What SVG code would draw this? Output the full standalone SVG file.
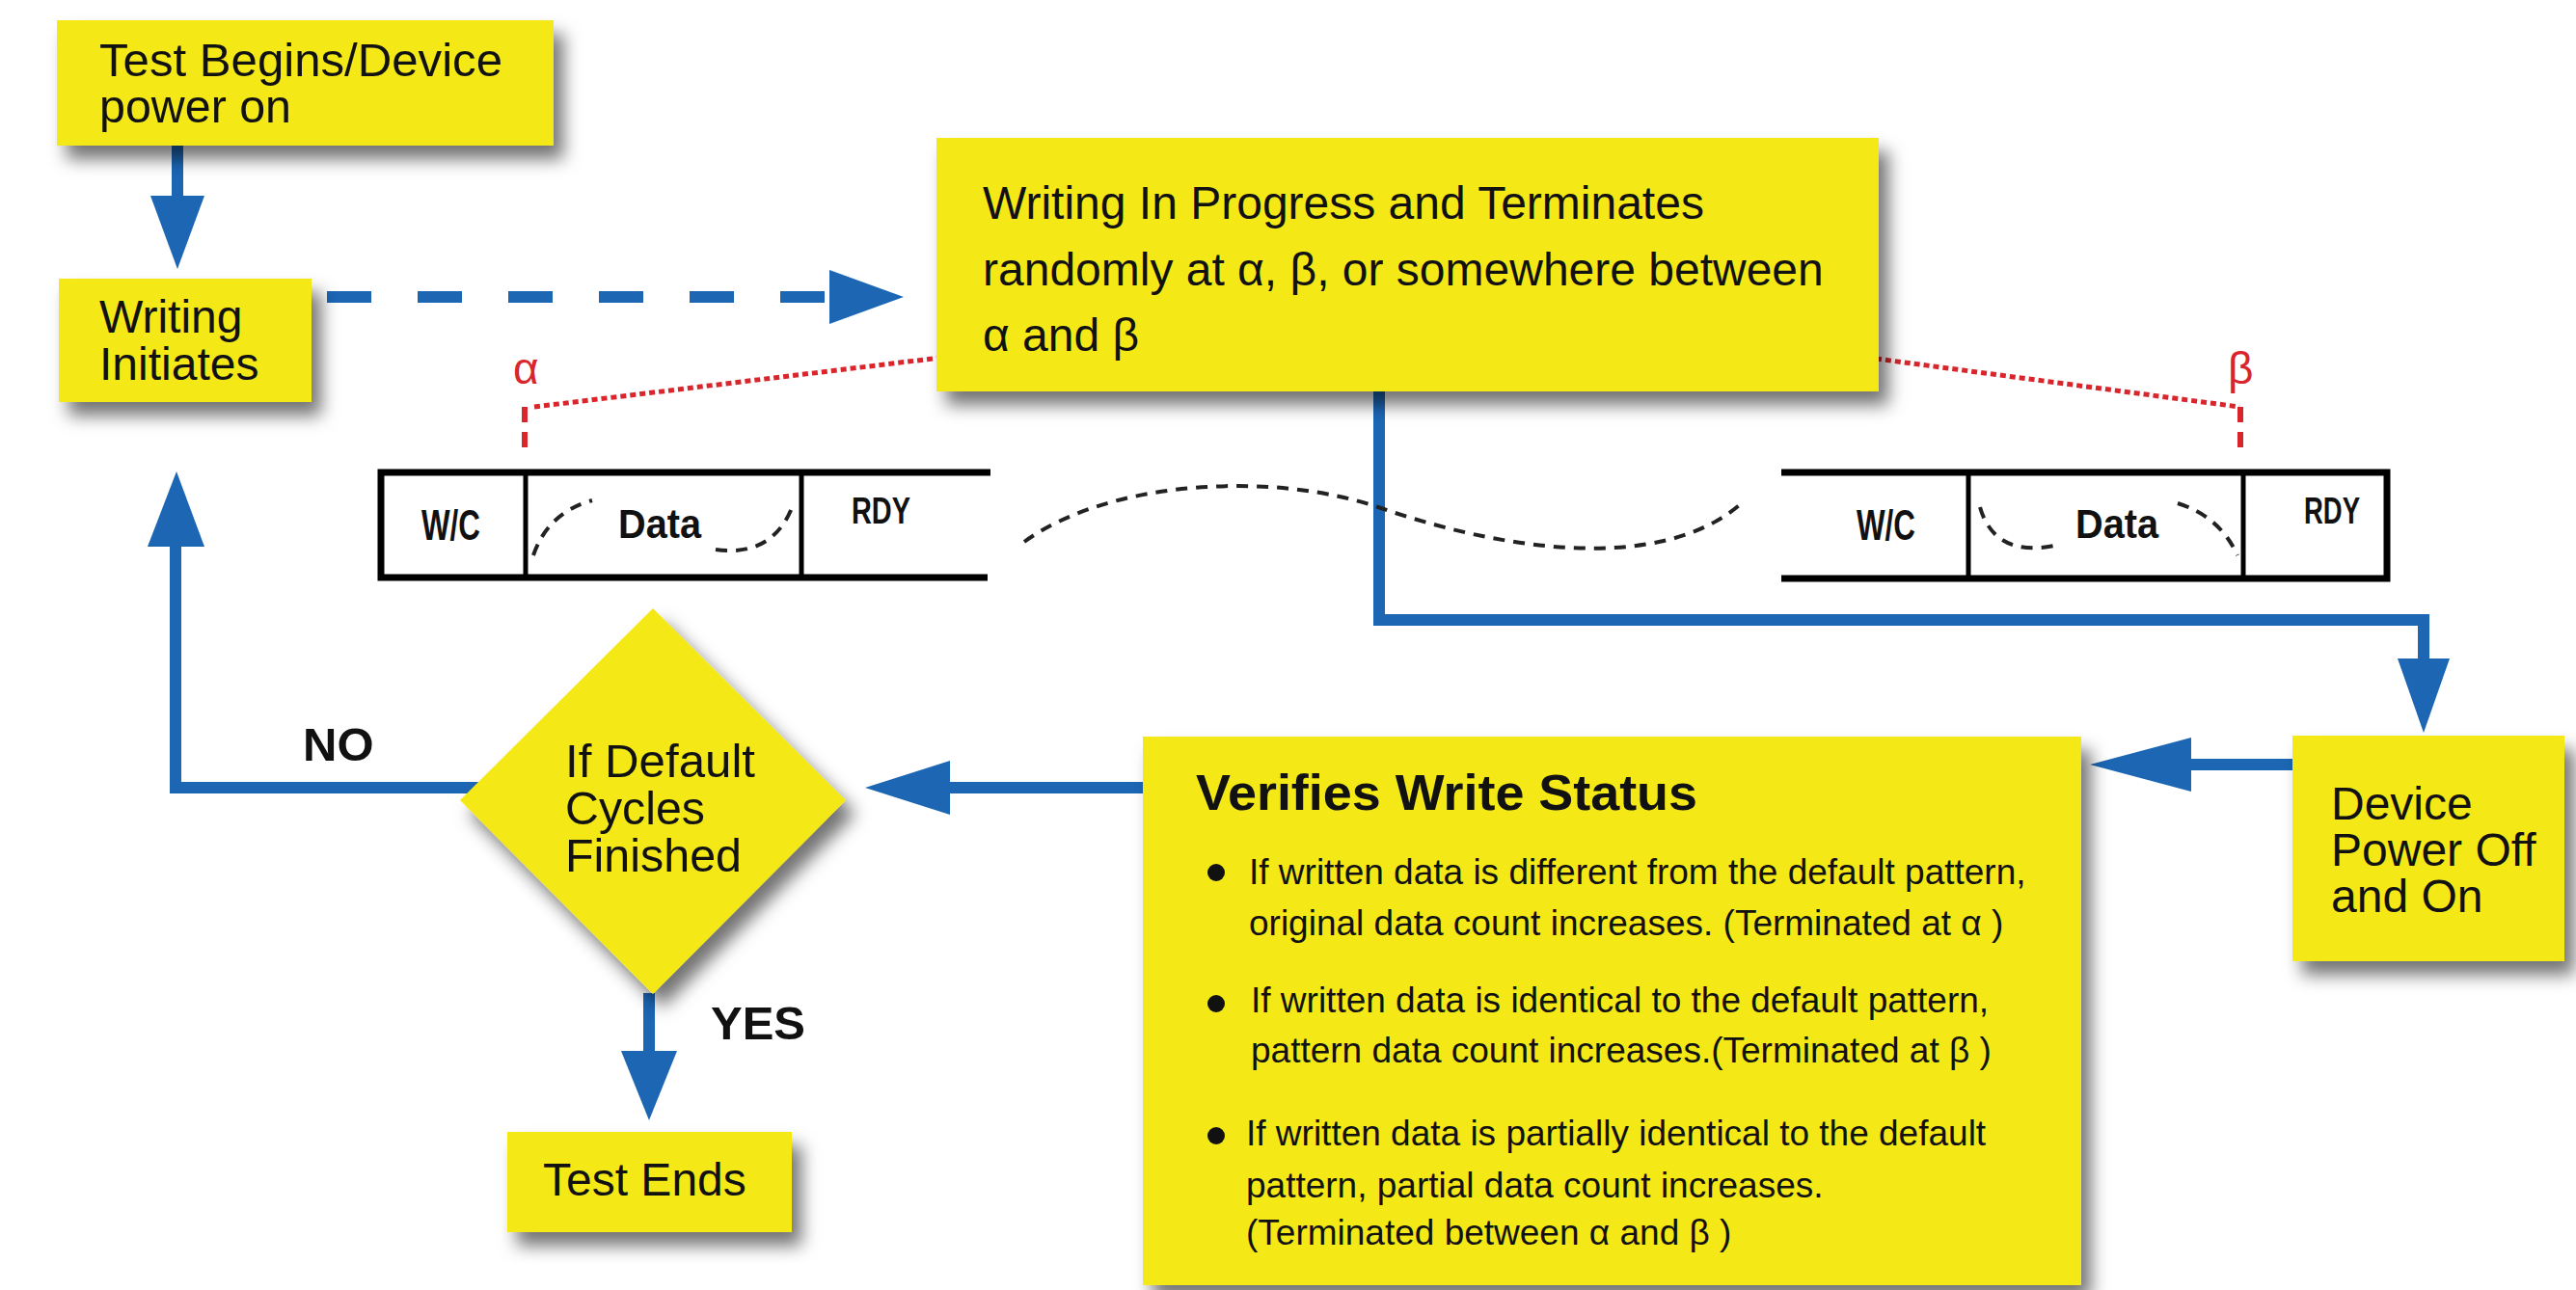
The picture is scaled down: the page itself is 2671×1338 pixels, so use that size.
<svg xmlns="http://www.w3.org/2000/svg" width="2671" height="1338" viewBox="0 0 2671 1338">
  <style>
    .box { fill: #f4e915; filter: url(#shadow); }
    .t { font-family: "Liberation Sans", Arial, sans-serif; font-size: 48px; fill: #111; }
    .tb { font-family: "Liberation Sans", Arial, sans-serif; font-weight: bold; fill: #111; }
    .ts { font-family: "Liberation Sans", Arial, sans-serif; font-size: 37px; fill: #111; }
    .greek { font-family: "Liberation Sans", Arial, sans-serif; font-size: 46px; fill: #d8262c; }
    .flow { stroke: #1c66b4; stroke-width: 12; fill: none; }
    .head { fill: #1c66b4; }
    .mem { stroke: #000; stroke-width: 7; fill: none; }
    .div { stroke: #000; stroke-width: 5; fill: none; }
    .wave { stroke: #222; stroke-width: 4; fill: none; stroke-dasharray: 12 9; }
    .dot { stroke: #d8262c; stroke-width: 5; fill: none; stroke-dasharray: 6 4; }
    .mark { stroke: #d8262c; stroke-width: 6; fill: none; stroke-dasharray: 16 10; }
  </style>
  <defs>
    <filter id="shadow" x="-10%" y="-10%" width="130%" height="140%">
      <feDropShadow dx="10" dy="14" stdDeviation="9" flood-color="#000" flood-opacity="0.55"/>
    </filter>
  </defs>

  <rect width="2671" height="1338" fill="#fff"/>

  <!-- connectors -->
  <g id="connectors">
    <!-- start -> writing initiates -->
    <line class="flow" x1="184" y1="151" x2="184" y2="206"/>
    <polygon class="head" points="156,203 212,203 184,279"/>
    <!-- writing initiates -> writing in progress (dashed) -->
    <line class="flow" x1="339" y1="308" x2="858" y2="308" stroke-dasharray="46 48"/>
    <polygon class="head" points="860,280 937,308 860,336"/>
    <!-- writing in progress -> power cycle -->
    <polyline class="flow" points="1430,406 1430,643 2513,643 2513,686"/>
    <polygon class="head" points="2486,683 2540,683 2513,760"/>
    <!-- power cycle -> verify -->
    <line class="flow" x1="2377" y1="793" x2="2268" y2="793"/>
    <polygon class="head" points="2272,765 2272,821 2167,793"/>
    <!-- verify -> decision -->
    <line class="flow" x1="1185" y1="817" x2="982" y2="817"/>
    <polygon class="head" points="985,789 985,845 897,817"/>
    <!-- decision NO -> back to writing initiates -->
    <polyline class="flow" points="500,817 182,817 182,564"/>
    <polygon class="head" points="153,567 212,567 183,489"/>
    <!-- decision YES -> end -->
    <line class="flow" x1="673" y1="1030" x2="673" y2="1093" stroke-width="15"/>
    <polygon class="head" points="644,1090 702,1090 673,1162"/>
  </g>

  <!-- write frame: first cycle -->
  <g id="frame-alpha">
    <polyline class="mem" points="1027,490 395,490 395,599 1024,599"/>
    <line class="div" x1="545" y1="490" x2="545" y2="599"/>
    <line class="div" x1="831" y1="490" x2="831" y2="599"/>
    <text class="tb" x="437" y="560" font-size="44" textLength="61" lengthAdjust="spacingAndGlyphs">W/C</text>
    <text class="tb" x="641" y="558" font-size="42" textLength="86" lengthAdjust="spacingAndGlyphs">Data</text>
    <text class="tb" x="883" y="543" font-size="38" textLength="61" lengthAdjust="spacingAndGlyphs">RDY</text>
    <path class="wave" d="M553,576 Q568,532 614,519"/>
    <path class="wave" d="M742,570 Q800,578 821,527"/>
  </g>

  <!-- data continues between the two frames -->
  <path id="data-span" class="wave" d="M1062,562 C1150,498 1320,488 1432,527 S1720,600 1808,520"/>

  <!-- write frame: last cycle -->
  <g id="frame-beta">
    <polyline class="mem" points="1847,490 2475,490 2475,600 1847,600"/>
    <line class="div" x1="2041" y1="490" x2="2041" y2="600"/>
    <line class="div" x1="2326" y1="490" x2="2326" y2="600"/>
    <text class="tb" x="1925" y="560" font-size="44" textLength="61" lengthAdjust="spacingAndGlyphs">W/C</text>
    <text class="tb" x="2152" y="558" font-size="42" textLength="86" lengthAdjust="spacingAndGlyphs">Data</text>
    <text class="tb" x="2389" y="543" font-size="38" textLength="58" lengthAdjust="spacingAndGlyphs">RDY</text>
    <path class="wave" d="M2053,526 Q2068,578 2130,566"/>
    <path class="wave" d="M2258,522 Q2302,536 2320,576"/>
  </g>

  <!-- termination markers -->
  <g id="marker-alpha">
    <line class="dot" x1="554" y1="422" x2="975" y2="371"/>
    <line class="mark" x1="544" y1="422" x2="544" y2="472"/>
    <text class="greek" x="532" y="398">α</text>
  </g>
  <g id="marker-beta">
    <line class="dot" x1="1945" y1="372" x2="2322" y2="422"/>
    <line class="mark" x1="2323" y1="422" x2="2323" y2="472"/>
    <text class="greek" x="2310" y="398">β</text>
  </g>

  <!-- nodes -->
  <g id="start">
    <rect class="box" x="59" y="21" width="515" height="130"/>
    <text class="t" x="103" y="79" font-size="42" textLength="418" lengthAdjust="spacingAndGlyphs">Test Begins/Device</text>
    <text class="t" x="103" y="127" font-size="42" textLength="199" lengthAdjust="spacingAndGlyphs">power on</text>
  </g>

  <g id="writing-initiates">
    <rect class="box" x="61" y="289" width="262" height="128"/>
    <text class="t" x="103" y="345" font-size="49">Writing</text>
    <text class="t" x="103" y="394" font-size="49">Initiates</text>
  </g>

  <g id="writing-progress">
    <rect class="box" x="971" y="143" width="977" height="263"/>
    <text class="t" x="1019" y="227">Writing In Progress and Terminates</text>
    <text class="t" x="1019" y="296">randomly at α, β, or somewhere between</text>
    <text class="t" x="1019" y="364">α and β</text>
  </g>

  <g id="power-cycle">
    <rect class="box" x="2377" y="763" width="282" height="234"/>
    <text class="t" x="2417" y="850">Device</text>
    <text class="t" x="2417" y="898">Power Off</text>
    <text class="t" x="2417" y="946">and On</text>
  </g>

  <g id="verify">
    <rect class="box" x="1185" y="764" width="973" height="569"/>
    <text class="tb" x="1240" y="840" font-size="52" textLength="520" lengthAdjust="spacingAndGlyphs">Verifies Write Status</text>
    <circle cx="1261" cy="905" r="9" fill="#111"/>
    <text class="ts" x="1295" y="917">If written data is different from the default pattern,</text>
    <text class="ts" x="1295" y="970">original data count increases. (Terminated at α )</text>
    <circle cx="1261" cy="1041" r="9" fill="#111"/>
    <text class="ts" x="1297" y="1050">If written data is identical to the default pattern,</text>
    <text class="ts" x="1297" y="1102">pattern data count increases.(Terminated at β )</text>
    <circle cx="1261" cy="1178" r="9" fill="#111"/>
    <text class="ts" x="1292" y="1188">If written data is partially identical to the default</text>
    <text class="ts" x="1292" y="1242">pattern, partial data count increases.</text>
    <text class="ts" x="1292" y="1291">(Terminated between α and β )</text>
  </g>

  <g id="decision">
    <polygon class="box" points="677,631 877,830 677,1031 477,830"/>
    <text class="t" x="586" y="806" font-size="40" textLength="197" lengthAdjust="spacingAndGlyphs">If Default</text>
    <text class="t" x="586" y="855" font-size="40" textLength="145" lengthAdjust="spacingAndGlyphs">Cycles</text>
    <text class="t" x="586" y="904" font-size="40" textLength="183" lengthAdjust="spacingAndGlyphs">Finished</text>
  </g>

  <g id="test-ends">
    <rect class="box" x="526" y="1174" width="295" height="104"/>
    <text class="t" x="563" y="1240">Test Ends</text>
  </g>

  <g id="branch-labels">
    <text class="tb" x="314" y="789" font-size="49">NO</text>
    <text class="tb" x="737" y="1078" font-size="49">YES</text>
  </g>
</svg>
